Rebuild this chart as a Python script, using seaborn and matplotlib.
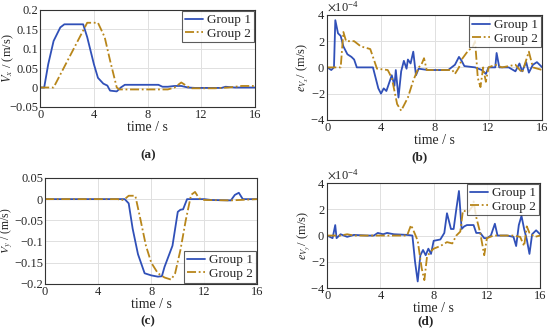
import numpy as np
import pandas as pd
import seaborn as sns
import matplotlib.pyplot as plt
from matplotlib.ticker import ScalarFormatter

# (a) Vx
ta1 = [0, 0.3, 0.6, 1.0, 1.5, 1.8, 3.2, 3.5, 4.0, 4.3, 4.7, 5.0, 5.2, 5.7, 6.0, 6.3, 8.8, 9.1, 9.5, 10.0, 10.5, 11.0, 11.5, 13.5, 13.8, 14.5, 16]
va1 = [0, 0, 0.06, 0.12, 0.155, 0.163, 0.163, 0.13, 0.06, 0.025, 0.01, 0.005, -0.008, -0.01, 0.0, 0.007, 0.007, 0.002, 0.002, 0.004, 0.004, 0.0, -0.001, -0.001, 0.002, 0.0, 0.0]
ta2 = [0, 1.0, 3.5, 4.3, 4.8, 5.2, 5.7, 5.9, 6.5, 9.5, 10.0, 10.5, 11.0, 11.3, 13.0, 14.0, 15.0, 16]
va2 = [0, 0, 0.167, 0.167, 0.13, 0.07, 0.0, -0.005, -0.005, -0.005, 0.0, 0.013, 0.002, -0.002, -0.002, 0.0, 0.004, 0.004]

# (b) e_Vx, units of 1e-4
tb1 = [0, 0.3, 0.5, 0.6, 0.8, 1.0, 1.2, 1.5, 1.8, 2.0, 2.2, 3.4, 3.6, 3.8, 4.0, 4.2, 4.4, 4.6, 4.8, 5.0, 5.1, 5.3, 5.5, 5.7, 5.9, 6.0, 6.2, 6.4, 6.6, 6.8, 7.5, 9.0, 9.5, 9.8, 10.0, 10.2, 11.0, 11.5, 11.8, 12.0, 12.5, 12.6, 12.8, 13.5, 14.0, 14.3, 14.5, 14.8, 15.0, 15.3, 15.6, 16]
eb1 = [0, -0.2, 0, 3.6, 2.6, 2.4, 1.6, 1.0, 0.8, 0.6, 0, 0, -0.8, -1.6, -2.0, -1.6, -1.8, -1.2, -0.6, -1.4, -0.2, -2.3, -0.3, 0.5, -0.1, 0.6, 0.3, 1.2, -0.6, -0.1, -0.2, -0.2, 0.2, 0.8, 0.5, 0.1, 0.0, -0.2, -0.5, 0, 0, 1.1, 0, 0, -0.3, 0.3, -0.3, 0.4, -0.4, 0.2, 0.4, 0]
tb2 = [0, 1.0, 1.2, 1.4, 2.0, 2.5, 3.2, 3.5, 3.7, 4.5, 4.8, 5.2, 5.5, 6.0, 6.4, 6.8, 7.0, 7.2, 7.4, 8.0, 9.3, 9.5, 9.8, 10.0, 10.5, 10.8, 11.0, 11.2, 11.4, 11.6, 11.8, 12.0, 12.5, 13.0, 14.0, 14.5, 15.0, 15.3, 16]
eb2 = [0, 0, 2.7, 2.0, 2.0, 1.6, 1.4, 0.5, -0.1, -0.2, -0.8, -2.8, -3.3, -2.3, -1.0, 0, 0.2, 0.7, -0.2, -0.2, -0.2, -0.5, 0, 0.6, 1.3, 1.5, 2.0, -0.8, -1.5, 0, -1.1, 0, 0.2, 0, 0.2, -0.4, 1.2, 0, -0.2]

# (c) Vy
tc1 = [0, 6.0, 6.3, 6.6, 7.0, 7.5, 8.0, 8.5, 8.8, 9.0, 9.3, 9.6, 10.0, 10.2, 10.4, 10.7, 12.0, 12.5, 14.0, 14.3, 14.6, 14.9, 16]
vc1 = [0, 0, -0.01, -0.07, -0.13, -0.175, -0.18, -0.183, -0.182, -0.16, -0.135, -0.11, -0.03, -0.025, -0.024, 0, 0, -0.002, -0.003, 0.01, 0.015, 0.0, 0]
tc2 = [0, 5.5, 5.7, 6.0, 6.3, 6.8, 7.2, 7.6, 8.0, 8.5, 9.0, 9.5, 9.8, 10.2, 10.6, 11.0, 11.3, 11.6, 12.0, 14.0, 16]
vc2 = [0, 0, -0.003, 0, 0.008, 0.008, -0.05, -0.11, -0.15, -0.175, -0.185, -0.19, -0.175, -0.12, -0.05, 0.01, 0.017, 0.002, -0.002, -0.003, 0]

# (d) e_Vy, units of 1e-4
td1 = [0, 0.4, 0.6, 0.7, 1.0, 1.5, 2.0, 3.0, 3.5, 3.8, 4.2, 4.5, 5.0, 6.0, 6.4, 6.6, 6.8, 7.0, 7.2, 7.4, 7.6, 7.8, 8.0, 8.5, 8.8, 9.0, 9.3, 9.5, 9.7, 9.9, 10.1, 10.3, 10.5, 11.0, 11.2, 11.5, 11.8, 12.0, 12.3, 12.6, 12.8, 13.5, 14.0, 14.2, 14.4, 14.6, 14.8, 15.0, 15.2, 15.4, 15.7, 16]
ed1 = [0, -0.2, 0.8, -0.2, 0.1, -0.1, 0.05, 0, 0, 0.2, 0.1, 0.2, 0.1, 0.05, 0, -2.0, -3.5, -1.5, -1.1, -1.5, -1.0, -1.4, -0.4, -0.3, 0.2, 1.7, 0.5, 0.5, 2.0, 3.4, 0.5, 0.7, 0.8, 0.8, 0.2, 0.2, -0.2, -0.2, 0, 0.9, 0, 0, -0.1, -0.8, 0.8, 1.5, 0.5, -0.3, -1.4, 0.1, 0.4, 0.1]
td2 = [0, 1.0, 1.5, 2.0, 6.0, 6.3, 6.6, 6.8, 7.1, 7.3, 7.5, 7.8, 8.0, 8.5, 9.0, 9.4, 9.7, 10.0, 10.2, 10.6, 10.9, 11.0, 11.2, 11.5, 11.8, 12.0, 12.5, 14.0, 14.5, 14.8, 15.0, 15.2, 15.6, 16]
ed2 = [0, 0, 0.1, 0, 0, 0.8, 0.1, -0.4, -2.5, -3.4, -1.6, -1.2, -1.0, -0.8, -0.5, -0.6, 0, 0.3, 1.9, 1.8, 2.2, 2.6, 1.4, 0.2, -1.5, -0.2, 0, 0, -0.1, -0.8, 0.7, 0.2, -0.1, 0]

groups = ['Group 1', 'Group 2']
colors = {'Group 1': '#3050b8', 'Group 2': '#b8861a'}

sns.set_style('whitegrid')
plt.rcParams['font.family'] = ['Liberation Serif', 'DejaVu Serif']
plt.rcParams['mathtext.fontset'] = 'stix'
plt.rcParams['font.size'] = 9.5
plt.rcParams['axes.unicode_minus'] = True


def make_df(t1, y1, t2, y2, scale=1.0):
    d1 = pd.DataFrame({'t': t1, 'y': np.array(y1) * scale, 'g': 'Group 1'})
    d2 = pd.DataFrame({'t': t2, 'y': np.array(y2) * scale, 'g': 'Group 2'})
    return pd.concat([d1, d2], ignore_index=True)


def panel(ax, df, ylabel, ylim, yticks, tag, tag_xy, loc, label_x, sci=False, label_size=9):
    sns.lineplot(data=df, x='t', y='y', hue='g', style='g', palette=colors,
                 dashes={'Group 1': '', 'Group 2': (5, 1.5, 1, 1.5)},
                 ax=ax, linewidth=1.3, estimator=None, sort=False)
    ax.set_xlim(0, 16)
    ax.set_ylim(*ylim)
    ax.set_xticks([0, 4, 8, 12, 16])
    ax.set_yticks(yticks)
    if sci:
        fmt = ScalarFormatter(useMathText=True)
        fmt.set_powerlimits((0, 0))
        ax.yaxis.set_major_formatter(fmt)
        ax.yaxis.get_offset_text().set_fontsize(9)
    else:
        ax.set_yticklabels([f'{v:g}'.replace('-', '\u2212') for v in yticks])
    ax.set_xlabel('time / s', labelpad=0, fontsize=10)
    ax.set_ylabel(ylabel, fontsize=label_size)
    ax.yaxis.set_label_coords(label_x, 0.5)
    for s in ax.spines.values():
        s.set_edgecolor('#333333')
        s.set_linewidth(0.8)
    ax.grid(True, color='#e0e0e0', linewidth=0.7)
    ax.tick_params(axis='both', length=2, pad=1.5, labelsize=9, direction='in')
    leg = ax.legend(loc=loc, frameon=True, fancybox=False, borderpad=0.2,
                    handlelength=1.4, handletextpad=0.3, labelspacing=0.1,
                    borderaxespad=0.1, fontsize=9.5)
    leg.get_frame().set_edgecolor('#333333')
    leg.get_frame().set_linewidth(0.8)
    fig.text(tag_xy[0] / 550, 1 - tag_xy[1] / 332, tag, ha='center', va='center',
             fontweight='bold', fontsize=9.5)


fig = plt.figure(figsize=(5.5, 3.32), dpi=100)
ax_a = fig.add_axes([0.073, 0.678, 0.391, 0.292])
ax_b = fig.add_axes([0.595, 0.639, 0.391, 0.316])
ax_c = fig.add_axes([0.082, 0.145, 0.386, 0.319])
ax_d = fig.add_axes([0.595, 0.1325, 0.387, 0.316])

panel(ax_a, make_df(ta1, va1, ta2, va2), '$V_x$ / (m/s)', (-0.05, 0.2),
      [-0.05, 0, 0.05, 0.1, 0.15, 0.2], '(a)', (148, 155), 'upper right', -0.11)
panel(ax_b, make_df(tb1, eb1, tb2, eb2, 1e-4), '$e_{V_x}$/ (m/s)', (-4e-4, 4e-4),
      [-4e-4, -2e-4, 0, 2e-4, 4e-4], '(b)', (420, 157), 'upper right', -0.075, sci=True)
panel(ax_c, make_df(tc1, vc1, tc2, vc2), '$V_y$ / (m/s)', (-0.2, 0.05),
      [-0.2, -0.15, -0.1, -0.05, 0, 0.05], '(c)', (148, 321), 'lower right', -0.14,
      label_size=8.5)
panel(ax_d, make_df(td1, ed1, td2, ed2, 1e-4), '$e_{V_y}$/ (m/s)', (-4e-4, 4e-4),
      [-4e-4, -2e-4, 0, 2e-4, 4e-4], '(d)', (426, 321), 'upper right', -0.07, sci=True)

fig.savefig('out.png', dpi=100)
